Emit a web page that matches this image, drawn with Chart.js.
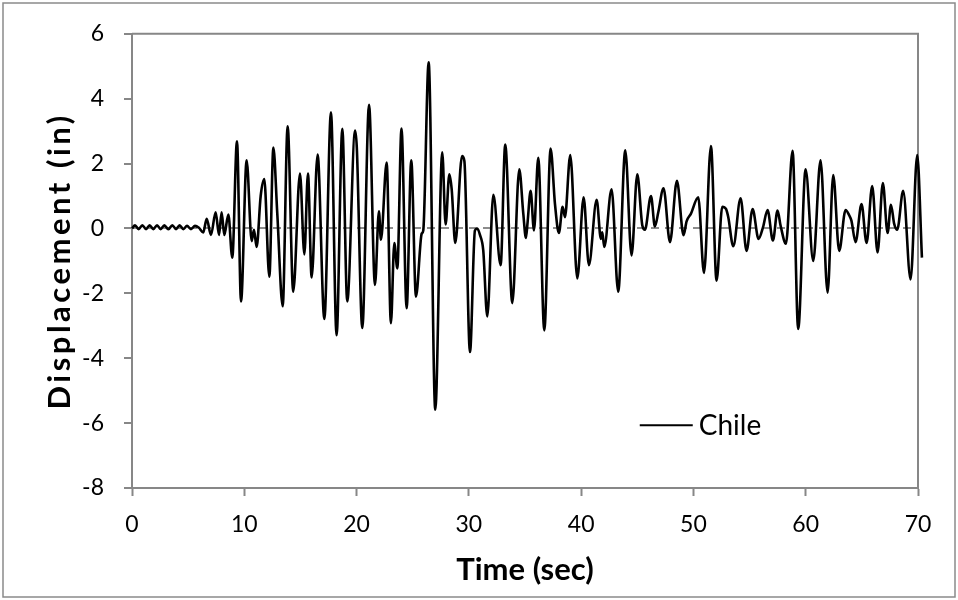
<!DOCTYPE html>
<html>
<head>
<meta charset="utf-8">
<script src="https://cdn.jsdelivr.net/npm/chart.js@4"></script>
<style>
  html, body { margin: 0; padding: 0; background: #fff; }
  #wrap { width: 958px; height: 600px; }
</style>
</head>
<body>
<div id="wrap"><canvas id="dispChart" width="958" height="600"></canvas></div>
<script>
// time (sec) of each read-off point
const times = [
  0, 0.27, 0.59, 0.92, 1.25, 1.57, 1.9, 2.23, 2.55, 2.88, 3.24, 3.59, 3.92, 4.24, 4.57, 4.9, 5.25, 5.61, 5.96,
  6.35, 6.65, 7.03, 7.45, 7.75, 7.98, 8.22, 8.58, 8.93, 9.35, 9.71,
  10.21, 10.66, 10.86, 11.1, 11.46, 11.78, 12.23, 12.59, 12.94, 13.42, 13.86, 14.36, 14.96, 15.35, 15.67, 16.0,
  16.53, 17.13, 17.72, 18.22, 18.73, 19.17, 19.87, 20.02,
  20.51, 21.11, 21.64, 21.99, 22.17, 22.68, 23.06, 23.36, 23.63, 24.0, 24.46, 24.87, 25.29, 25.8, 25.94,
  26.42, 27.01, 27.63, 27.93, 28.26, 28.47, 28.79, 29.39, 29.6, 30.1,
  30.54, 30.75, 30.99, 31.28, 31.64, 32.18, 32.83, 33.24, 33.87, 34.49, 34.85, 35.08, 35.23, 35.5, 35.8,
  36.18, 36.72, 37.28, 37.67, 38.02, 38.35, 38.56, 39.03, 39.66, 40.22,
  40.69, 41.38, 41.76, 41.88, 42.06, 42.71, 43.3, 43.93, 44.49, 45.0, 45.45, 45.68, 46.22, 46.57, 46.87,
  47.34, 47.91, 48.53, 49.12, 49.39, 49.77, 50.43,
  50.94, 51.56, 52.06, 52.57, 52.9, 53.1, 53.55, 54.2, 54.73, 55.27, 55.8, 56.2, 56.6, 57.08, 57.49, 57.76,
  58.24, 58.83, 59.33, 59.99, 60.67,
  61.32, 61.95, 62.45, 62.98, 63.55, 63.88, 64.07, 64.44, 64.97, 65.42, 65.92, 66.4, 66.87, 67.29, 67.59,
  67.88, 68.15, 68.68, 69.34, 69.93, 70.35
];

// displacement (in) at those times
const chileDisp = [
  0, 0.1, -0.02, 0.1, -0.02, 0.1, -0.02, 0.1, -0.02, 0.1, -0.02, 0.1, -0.02, 0.1, -0.02, 0.08, -0.02, 0.08, 0.02,
  -0.12, 0.3, -0.2, 0.5, -0.2, 0.5, -0.2, 0.43, -0.9, 2.69, -2.25,
  2.1, -0.39, -0.04, -0.57, 1.0, 1.52, -1.49, 2.49, 0.45, -2.4, 3.15, -1.95, 1.69, -0.8, 1.69, -1.51,
  2.28, -2.79, 3.58, -3.29, 3.07, -2.25, 3.02, 2.5,
  -3.07, 3.81, -1.74, 0.53, -0.35, 2.03, -2.92, -0.45, -1.23, 3.08, -2.46, 2.1, -2.1, -0.16, -0.06,
  5.12, -5.59, 2.35, 0.12, 1.67, 1.21, -0.45, 2.23, 2.08, -3.81,
  -0.06, 0.0, -0.2, -0.67, -2.71, 1.04, -1.13, 2.59, -2.3, 1.82, 0.45, -0.29, 0.19, 1.16, -0.06,
  2.18, -3.14, 2.46, 0.75, -0.14, 0.67, 0.35, 2.26, -1.54, 0.96,
  -1.13, 0.88, -0.32, -0.12, -0.57, 1.21, -1.95, 2.41, -0.83, 1.67, 0.09, -0.04, 1.0, 0.06, 0.5,
  1.24, -0.42, 1.47, -0.21, 0.22, 0.45, 0.96,
  -1.37, 2.54, -1.61, 0.67, 0.6, 0.35, -0.55, 0.93, -0.69, 0.6, -0.32, 0.04, 0.57, -0.37, 0.55, 0.09,
  -0.47, 2.39, -3.1, 1.82, -1.0,
  2.1, -1.98, 1.65, -0.69, 0.57, 0.4, 0.24, -0.42, 0.75, -0.45, 1.31, -0.74, 1.4, -0.14, 0.73,
  0.14, -0.04, 1.16, -1.57, 2.26, -0.9
];

const seriesName = "Chile";
const xTicks = [0, 10, 20, 30, 40, 50, 60, 70];
const yTicks = [-8, -6, -4, -2, 0, 2, 4, 6];

const axisGray = "#878787";
const fontFam = "Lato, 'Open Sans', sans-serif";

// frame around the canvas + the plot area box
const frames = {
  id: "frames",
  beforeDraw(chart) {
    const ctx = chart.ctx;
    ctx.save();
    ctx.strokeStyle = "#8a8a8a";
    ctx.lineWidth = 1.5;
    ctx.strokeRect(3, 3, chart.width - 6, chart.height - 6);
    ctx.restore();

    // spread out the y title letters a bit
    const s = chart.scales.y;
    if (s && !s._spaced) {
      const orig = s.drawTitle;
      s.drawTitle = function () {
        this.ctx.save();
        this.ctx.letterSpacing = "3.5px";
        orig.call(this);
        this.ctx.restore();
      };
      s._spaced = true;
    }
  },
  beforeDatasetsDraw(chart) {
    const {ctx, chartArea: a} = chart;
    ctx.save();
    ctx.strokeStyle = axisGray;
    ctx.lineWidth = 2;
    ctx.beginPath();
    ctx.moveTo(a.left, a.top);
    ctx.lineTo(a.right, a.top);
    ctx.lineTo(a.right, a.bottom);
    ctx.stroke();
    ctx.restore();
  },
  afterDraw(chart) {
    // legend inside plot area
    const {ctx, chartArea: a} = chart;
    const lx = a.left + (a.right - a.left) * 0.646;
    const ly = a.top + (a.bottom - a.top) * 0.862;
    ctx.save();
    ctx.strokeStyle = "#000";
    ctx.lineWidth = 2;
    ctx.beginPath();
    ctx.moveTo(lx, ly);
    ctx.lineTo(lx + 53, ly);
    ctx.stroke();
    ctx.fillStyle = "#000";
    ctx.font = "28px " + fontFam;
    ctx.textBaseline = "middle";
    ctx.fillText(chart.data.datasets[0].label, lx + 59, ly + 1);
    ctx.restore();
  }
};

const points = times.map((t, i) => ({x: t, y: chileDisp[i]}));

new Chart(document.getElementById("dispChart"), {
  type: "line",
  data: {
    datasets: [{
      label: seriesName,
      data: points,
      borderColor: "#000",
      borderWidth: 2.6,
      pointRadius: 0,
      cubicInterpolationMode: "monotone",
      fill: false,
      clip: false
    }]
  },
  options: {
    responsive: false,
    animation: false,
    devicePixelRatio: 1,
    layout: { padding: { top: 33, right: 40, left: 0, bottom: 0 } },
    plugins: {
      legend: { display: false },
      tooltip: { enabled: false }
    },
    scales: {
      x: {
        type: "linear",
        min: 0,
        max: 70,
        afterBuildTicks: (scale) => { scale.ticks = xTicks.map(v => ({value: v})); },
        afterFit: (scale) => { scale.height = 112; },
        ticks: {
          color: "#000",
          font: { family: fontFam, size: 23 },
          padding: 15,
          maxRotation: 0
        },
        grid: {
          drawOnChartArea: false,
          tickLength: 8,
          tickColor: axisGray,
          tickWidth: 2
        },
        border: { color: axisGray, width: 2 },
        title: {
          display: true,
          text: "Time (sec)",
          color: "#000",
          font: { family: fontFam, size: 31, weight: "bold" },
          padding: { top: 0, bottom: 11 }
        }
      },
      y: {
        min: -8,
        max: 6,
        afterBuildTicks: (scale) => { scale.ticks = yTicks.map(v => ({value: v})); },
        afterFit: (scale) => { scale.width = 132; },
        ticks: {
          color: "#000",
          font: { family: fontFam, size: 23 },
          padding: 20
        },
        grid: {
          color: (c) => (c.tick && c.tick.value === 0 ? "#8c8c8c" : "rgba(0,0,0,0)"),
          lineWidth: 2,
          tickLength: 8,
          tickColor: axisGray,
          tickWidth: 2
        },
        border: { color: axisGray, width: 2, dash: [8, 6] },
        title: {
          display: true,
          text: "Displacement (in)",
          color: "#000",
          font: { family: fontFam, size: 31, weight: "bold" },
          padding: { top: 41, bottom: 0 }
        }
      }
    }
  },
  plugins: [frames]
});
</script>
</body>
</html>
